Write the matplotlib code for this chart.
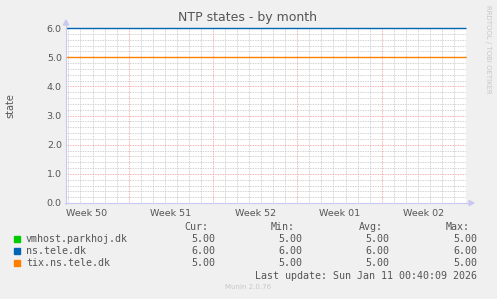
import numpy as np
import matplotlib
matplotlib.use('Agg')
import matplotlib.pyplot as plt

# data ########################################################################

# days since Mon 8 Dec 2025 (start of week 50)
days = [1.8, 8.0, 15.0, 22.0, 29.0, 35.0]
vmhost = [5.0, 5.0, 5.0, 5.0, 5.0, 5.0]
ns_tele = [6.0, 6.0, 6.0, 6.0, 6.0, 6.0]
tix_ns = [5.0, 5.0, 5.0, 5.0, 5.0, 5.0]

names = ['vmhost.parkhoj.dk', 'ns.tele.dk', 'tix.ns.tele.dk']
colours = ['#00CC00', '#0066B3', '#FF8000']
cur = [5.00, 6.00, 5.00]
vmin = [5.00, 6.00, 5.00]
vavg = [5.00, 6.00, 5.00]
vmax = [5.00, 6.00, 5.00]

week_labels = ['Week 50', 'Week 51', 'Week 52', 'Week 01', 'Week 02']
week_centres = [3.5, 10.5, 17.5, 24.5, 31.5]
week_starts = [7, 14, 21, 28]

###############################################################################

W, H = 497, 299
fig = plt.figure(figsize=(W/100, H/100), dpi=100, facecolor='#F0F0F0')
ax = fig.add_axes([66/W, 1 - 203/H, 400/W, 175/H], facecolor='white')

# grid
for d in np.arange(2, 35, 1):
    if d not in week_starts:
        ax.axvline(d, color='#C4C4C4', lw=0.6, ls=(0, (1, 1)), zorder=1)
for v in np.arange(0.2, 6.0, 0.2):
    if abs(v - round(v)) > 0.01:
        ax.axhline(v, color='#C4C4C4', lw=0.6, ls=(0, (1, 1)), zorder=1)
for d in week_starts:
    ax.axvline(d, color='#F09A9A', lw=0.6, ls=(0, (1, 1)), zorder=2)
for v in range(1, 7):
    ax.axhline(v, color='#F09A9A', lw=0.6, ls=(0, (1, 1)), zorder=2)

# series (later ones drawn on top, like rrdtool)
widths = [0.6, 1.0, 1.0]
for vals, c, w in zip([vmhost, ns_tele, tix_ns], colours, widths):
    ax.plot(days, vals, color=c, lw=w, zorder=5, solid_capstyle='butt',
            clip_on=False)

ax.set_xlim(1.8, 35)
ax.set_ylim(0, 6)
for s in ax.spines.values():
    s.set_visible(False)

ax.set_yticks(range(7))
ax.set_yticklabels(['%.1f' % v for v in range(7)])
ax.set_xticks(week_centres)
ax.set_xticklabels(week_labels)
ax.tick_params(axis='both', length=0, labelsize=6.8, colors='#555555', pad=3)
ax.tick_params(axis='x', pad=4)

# axis lines with arrows
axc = '#C8C8F0'
fig.add_artist(plt.Line2D([66/W, 66/W], [1 - 204/H, 1 - 24/H], color=axc, lw=0.8))
fig.add_artist(plt.Line2D([65/W, 470/W], [1 - 203/H, 1 - 203/H], color=axc, lw=0.8))
fig.add_artist(plt.Polygon([[63.5/W, 1 - 25/H], [68.5/W, 1 - 25/H], [66/W, 1 - 20/H]],
                           color=axc, transform=fig.transFigure))
fig.add_artist(plt.Polygon([[469/W, 1 - 200.5/H], [469/W, 1 - 205.5/H], [474/W, 1 - 203/H]],
                           color=axc, transform=fig.transFigure))

# texts
fig.text(248/W, 1 - 18/H, 'NTP states - by month', ha='center', va='center',
         fontsize=9, color='#555555')
fig.text(10/W, 1 - 106/H, 'state', rotation=90, ha='center', va='center',
         fontsize=7, color='#555555')
fig.text(488/W, 1 - 5/H, 'RRDTOOL / TOBI OETIKER', rotation=270, ha='center', va='top',
         fontsize=5, color='#C8C8C8')

mono = dict(family='DejaVu Sans Mono', fontsize=7.2, color='#555555', va='center')
hdr_y = 1 - 227/H
for x, t in zip([208, 295, 383, 470], ['Cur:', 'Min:', 'Avg:', 'Max:']):
    fig.text(x/W, hdr_y, t, ha='right', **mono)

for i in range(3):
    y = 1 - (239 + 12*i)/H
    fig.add_artist(plt.Rectangle((14/W, y - 3/H), 6/W, 6/H, color=colours[i],
                                 transform=fig.transFigure))
    fig.text(26/W, y, names[i], ha='left', **mono)
    for x, v in zip([215, 302, 389, 477], [cur[i], vmin[i], vavg[i], vmax[i]]):
        fig.text(x/W, y, '%.2f' % v, ha='right', **mono)

fig.text(477/W, 1 - 276/H, 'Last update: Sun Jan 11 00:40:09 2026', ha='right', **mono)
fig.text(248/W, 1 - 287/H, 'Munin 2.0.76', ha='center', va='center',
         fontsize=5, color='#C8C8C8')

fig.savefig('out.png', dpi=100, facecolor=fig.get_facecolor())
